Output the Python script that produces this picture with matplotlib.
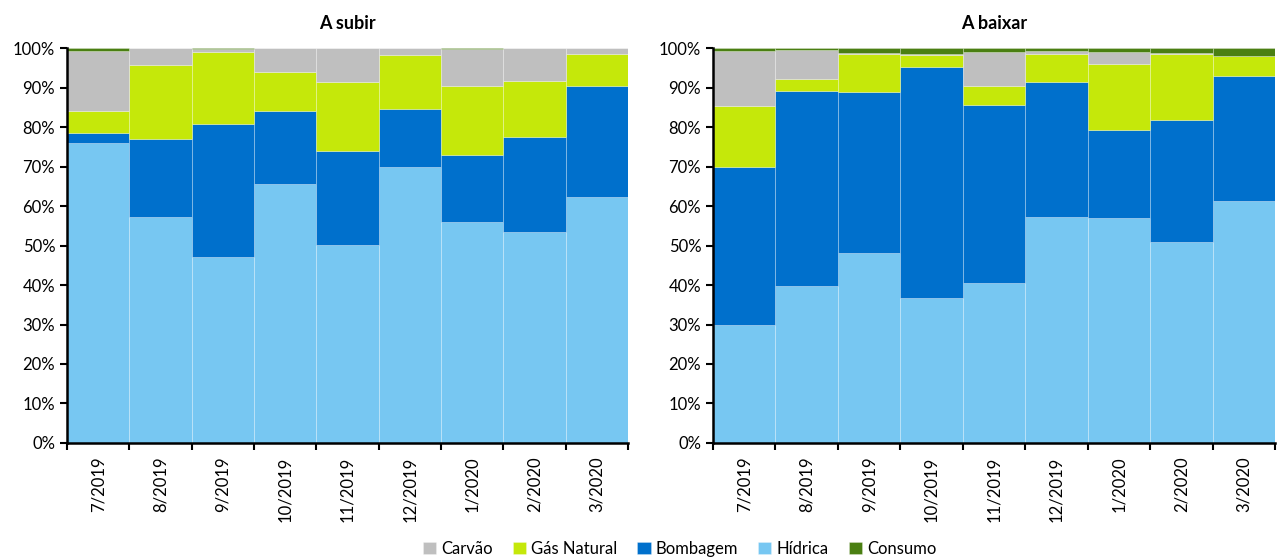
import numpy as np
import matplotlib.pyplot as plt
from matplotlib.ticker import PercentFormatter

plt.rcParams['font.family'] = ['Lato', 'DejaVu Sans']

meses = ['7/2019', '8/2019', '9/2019', '10/2019', '11/2019',
         '12/2019', '1/2020', '2/2020', '3/2020']

# A subir (%)
sub_hidrica = [76.0, 57.3, 47.0, 65.6, 50.2, 69.8, 55.9, 53.4, 62.4]
sub_bombagem = [2.4, 19.7, 33.7, 18.6, 23.7, 14.7, 17.1, 24.0, 27.9]
sub_gas = [5.6, 18.8, 18.3, 9.8, 17.5, 13.8, 17.3, 14.3, 8.2]
sub_carvao = [15.2, 4.2, 0.7, 6.0, 8.6, 1.7, 9.4, 8.3, 1.5]
sub_consumo = [0.8, 0.0, 0.3, 0.0, 0.0, 0.0, 0.3, 0.0, 0.0]

# A baixar (%)
bai_hidrica = [29.9, 39.8, 48.0, 36.6, 40.4, 57.3, 56.9, 50.9, 61.3]
bai_bombagem = [40.0, 49.3, 40.9, 58.7, 45.2, 34.1, 22.3, 30.9, 31.6]
bai_gas = [15.4, 3.0, 9.6, 3.0, 4.7, 7.0, 16.9, 16.6, 5.0]
bai_carvao = [14.0, 7.4, 0.4, 0.2, 8.8, 0.9, 3.0, 0.3, 0.0]
bai_consumo = [0.7, 0.5, 1.1, 1.5, 0.9, 0.7, 0.9, 1.3, 2.1]

nomes = ['Hídrica', 'Bombagem', 'Gás Natural', 'Carvão', 'Consumo']
cores = ['#77C7F2', '#0070CC', '#C5E80A', '#BFBFBF', '#4A7F12']
ordem_legenda = ['Carvão', 'Gás Natural', 'Bombagem', 'Hídrica', 'Consumo']

fig = plt.figure(figsize=(12.82, 5.6), dpi=100)
ax1 = fig.add_axes([0.0523, 0.209, 0.4376, 0.705])
ax2 = fig.add_axes([0.5562, 0.209, 0.4383, 0.705])

paineis = [
    (ax1, 'A subir', [sub_hidrica, sub_bombagem, sub_gas, sub_carvao, sub_consumo]),
    (ax2, 'A baixar', [bai_hidrica, bai_bombagem, bai_gas, bai_carvao, bai_consumo]),
]

x = np.arange(len(meses))
barras = {}
for ax, titulo, series in paineis:
    base = np.zeros(len(meses))
    for nome, cor, vals in zip(nomes, cores, series):
        vals = np.array(vals)
        b = ax.bar(x, vals, width=1.0, bottom=base, color=cor,
                   edgecolor=(1, 1, 1, 0.3), linewidth=0.6, label=nome)
        barras[nome] = b
        base += vals
    ax.set_xlim(-0.5, len(meses) - 0.5)
    ax.set_ylim(0, 100)
    ax.set_yticks(np.arange(0, 101, 10))
    ax.yaxis.set_major_formatter(PercentFormatter(decimals=0))
    ax.set_xticks(x)
    ax.set_xticklabels(meses, rotation=90)
    ax.set_xticks(np.arange(-0.5, len(meses)), minor=True)
    ax.tick_params(axis='x', which='major', length=0, pad=10, labelsize=12)
    ax.tick_params(axis='x', which='minor', length=5, width=1.5)
    ax.tick_params(axis='y', length=5, width=1.5, labelsize=12)
    for s in ['top', 'right']:
        ax.spines[s].set_visible(False)
    for s in ['left', 'bottom']:
        ax.spines[s].set_linewidth(1.8)
    ax.set_title(titulo, fontsize=13, fontweight='bold', pad=14)

handles = [barras[n] for n in ordem_legenda]
fig.legend(handles, ordem_legenda, loc='center', bbox_to_anchor=(0.53, 0.02),
           ncol=5, frameon=False, fontsize=12, handlelength=0.8,
           handleheight=0.8, handletextpad=0.3, columnspacing=1.2)

fig.savefig('out.png', dpi=100)
